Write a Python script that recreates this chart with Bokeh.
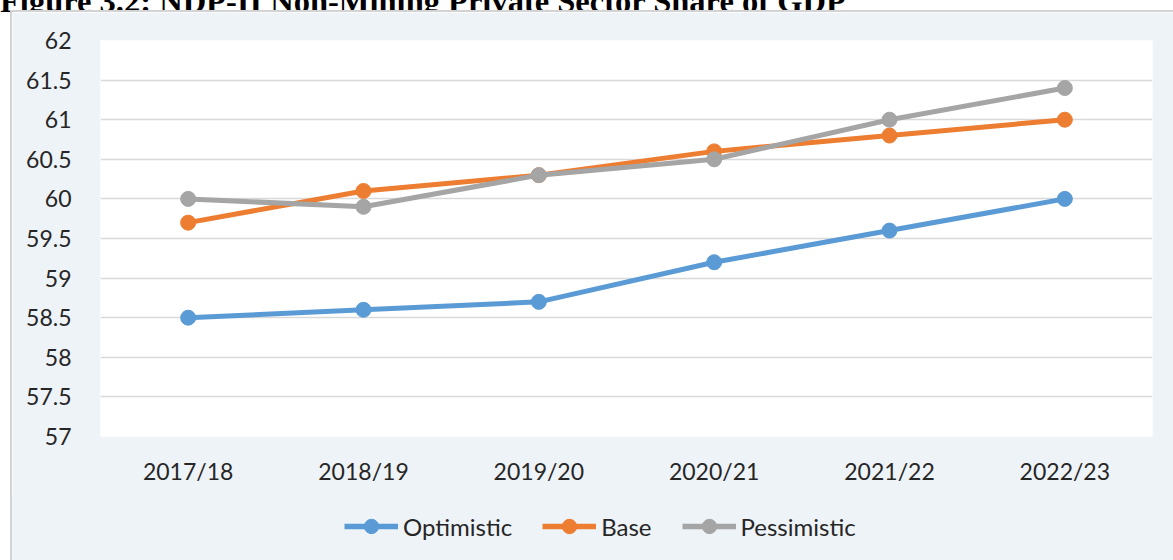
from bokeh.plotting import figure
from bokeh.models import (FactorRange, Range1d, Legend, LegendItem, FixedTicker, Div, Spacer)
from bokeh.layouts import column, row
from bokeh.embed import file_html
from bokeh.resources import INLINE

# ---------------- data ----------------
years = ["2017/18", "2018/19", "2019/20", "2020/21", "2021/22", "2022/23"]
optimistic = [58.5, 58.6, 58.7, 59.2, 59.6, 60.0]
base = [59.7, 60.1, 60.3, 60.6, 60.8, 61.0]
pessimistic = [60.0, 59.9, 60.3, 60.5, 61.0, 61.4]
y_ticks = [57, 57.5, 58, 58.5, 59, 59.5, 60, 60.5, 61, 61.5, 62]
y_tick_labels = ["57", "57.5", "58", "58.5", "59", "59.5", "60", "60.5", "61", "61.5", "62"]
series_names = ["Optimistic", "Base", "Pessimistic"]
title_text = "Figure 3.2: NDP-II Non-Mining Private Sector Share of GDP"

# ---------------- style ----------------
colors = ["#5B9BD5", "#ED7D31", "#A5A5A5"]
panel_bg = "#EEF3F8"
border_col = "#D3D3D3"
text_col = "#262626"
FONT = "Lato"

TOTAL_W, TOTAL_H = 1173, 560
TOP_STRIP, LEFT_STRIP = 12, 12
FRAME_L, FRAME_T, FRAME_R, FRAME_B = 100, 40, 1152, 436
MAIN_H = 496 - TOP_STRIP
LEG_H = TOTAL_H - TOP_STRIP - MAIN_H
INNER_W = TOTAL_W - LEFT_STRIP

# ---------------- title (cut off at the top, as in the source) ----------------
title_div = Div(
    text=('<div style="font-family: \'Liberation Serif\'; font-weight: bold; font-size: 32.5px; '
          'line-height: 32px; margin-top: -22px; white-space: nowrap; color: black;">'
          + title_text + '</div>'),
    width=TOTAL_W, height=TOP_STRIP, margin=0,
    styles={"overflow": "hidden", "background-color": "white"})

# ---------------- main chart ----------------
p = figure(x_range=FactorRange(*years), y_range=Range1d(57, 62),
           width=INNER_W, height=MAIN_H, output_backend="svg", toolbar_location=None,
           min_border_left=FRAME_L - LEFT_STRIP, min_border_right=TOTAL_W - FRAME_R,
           min_border_top=FRAME_T - TOP_STRIP, min_border_bottom=MAIN_H - (FRAME_B - TOP_STRIP))
p.styles = {"box-shadow": ("-2px 0 0 0 {c}, 0 -2px 0 0 {c}, -2px -2px 0 0 {c}"
                           .format(c=border_col))}
p.background_fill_color = "white"
p.border_fill_color = panel_bg
p.outline_line_color = None

p.yaxis.ticker = FixedTicker(ticks=y_ticks)
p.yaxis.major_label_overrides = dict(zip(y_ticks, y_tick_labels))
for ax in (p.xaxis[0], p.yaxis[0]):
    ax.axis_line_color = None
    ax.major_tick_line_color = None
    ax.minor_tick_line_color = None
    ax.major_label_text_font = FONT
    ax.major_label_text_font_size = "23px"
    ax.major_label_text_color = text_col
p.yaxis.major_label_standoff = 23
p.xaxis.major_label_standoff = 14

p.xgrid.grid_line_color = None
p.ygrid.ticker = FixedTicker(ticks=y_ticks)
p.ygrid.grid_line_color = "#D9D9D9"
p.ygrid.grid_line_width = 1.5

for vals, c in zip([optimistic, base, pessimistic], colors):
    p.line(years, vals, line_color=c, line_width=5)
    p.scatter(years, vals, size=15, fill_color=c, line_color=c)

# ---------------- legend strip ----------------
# same series drawn again, outside this strip's y range, only to feed the legend
pl = figure(x_range=FactorRange(*years), y_range=Range1d(0, 1),
            width=INNER_W, height=LEG_H, output_backend="svg", toolbar_location=None,
            x_axis_type=None, y_axis_type=None,
            min_border_left=0, min_border_right=0, min_border_top=0, min_border_bottom=0)
pl.styles = {"box-shadow": "-2px 0 0 0 " + border_col, "background-color": panel_bg}
pl.background_fill_alpha = 0
pl.border_fill_alpha = 0
pl.outline_line_color = None
pl.xgrid.visible = False
pl.ygrid.visible = False

items = []
for name, vals, c in zip(series_names, [optimistic, base, pessimistic], colors):
    ln = pl.line(years, vals, line_color=c, line_width=5.5)
    sc = pl.scatter(years, vals, size=15, fill_color=c, line_color=c)
    items.append(LegendItem(label=name, renderers=[ln, sc]))

# the strip's frame is aligned with the chart frame above (left edge at x = 100)
legend = Legend(items=items, orientation="horizontal", location=(244, 16),
                glyph_width=54, glyph_height=36, label_standoff=5, spacing=30,
                padding=0, margin=0, border_line_color=None, background_fill_alpha=0,
                label_text_font=FONT, label_text_font_size="24px",
                label_text_color=text_col)
pl.add_layout(legend)

layout = column(title_div, row(Spacer(width=LEFT_STRIP, height=MAIN_H + LEG_H, margin=0),
                               column(p, pl)))

open("out.html", "w").write(file_html(layout, INLINE))
